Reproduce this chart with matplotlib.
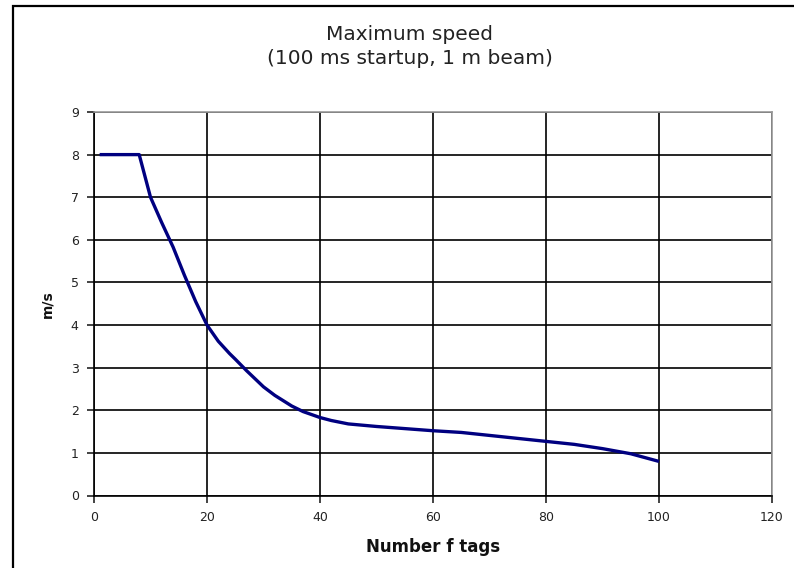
import matplotlib
matplotlib.use("Agg")
import matplotlib.pyplot as plt
from matplotlib.patches import Rectangle

num_tags = [1, 8, 10, 12, 14, 16, 18, 20, 22, 24, 25, 27, 30, 32, 35, 37, 40, 42, 45, 50, 55,
            60, 65, 70, 75, 80, 85, 90, 95, 100]
speed = [8.0, 8.0, 7.0, 6.4, 5.83, 5.17, 4.55, 4.0, 3.62, 3.33, 3.2, 2.93, 2.55, 2.35, 2.1, 1.97,
         1.83, 1.76, 1.68, 1.62, 1.57, 1.52, 1.48, 1.41, 1.34, 1.27, 1.2, 1.1, 0.98, 0.8]
x_ticks = [0, 20, 40, 60, 80, 100, 120]
y_ticks = [0, 1, 2, 3, 4, 5, 6, 7, 8, 9]
title_lines = ["Maximum speed", "(100 ms startup, 1 m beam)"]
x_label = "Number f tags"
y_label = "m/s"

plt.rcParams['font.family'] = ['DejaVu Sans']

W, H = 794, 568
fig = plt.figure(figsize=(W / 100, H / 100), dpi=100)
fig.patch.set_facecolor("white")

# outer frame (left/top visible, extending past right/bottom edges)
fig.patches.append(Rectangle((13 / W, -0.05), 1.2, 1 - 6 / H + 0.05, transform=fig.transFigure,
                             fill=False, edgecolor="black", linewidth=1.6))

ax = fig.add_axes([94 / W, 1 - 495.5 / H, (772 - 94) / W, (495.5 - 112) / H])
ax.plot(num_tags, speed, color="#000080", linewidth=2.4, solid_capstyle="butt",
        solid_joinstyle="round", zorder=3)

ax.set_xlim(0, 120)
ax.set_ylim(0, 9)
ax.set_xticks(x_ticks)
ax.set_yticks(y_ticks)
ax.grid(True, color="black", linewidth=1.2)
ax.set_axisbelow(True)

for s in ["left", "bottom"]:
    ax.spines[s].set_color("black")
    ax.spines[s].set_linewidth(1.2)
for s in ["top", "right"]:
    ax.spines[s].set_color("#999999")
    ax.spines[s].set_linewidth(1.2)

ax.tick_params(axis="both", direction="out", length=5, width=1.2, labelsize=9,
               colors="#222222", pad=6)

ax.set_xlabel(x_label, fontsize=12, fontweight="bold", labelpad=10, color="#111111")
ax.set_ylabel(y_label, fontsize=10, fontweight="bold", labelpad=12, color="#111111")

fig.text(410 / W, 1 - 35 / H, title_lines[0], ha="center", va="center", fontsize=14.5,
         color="#222222")
fig.text(410 / W, 1 - 58 / H, title_lines[1], ha="center", va="center", fontsize=14.5,
         color="#222222")

fig.savefig("out.png", dpi=100)
